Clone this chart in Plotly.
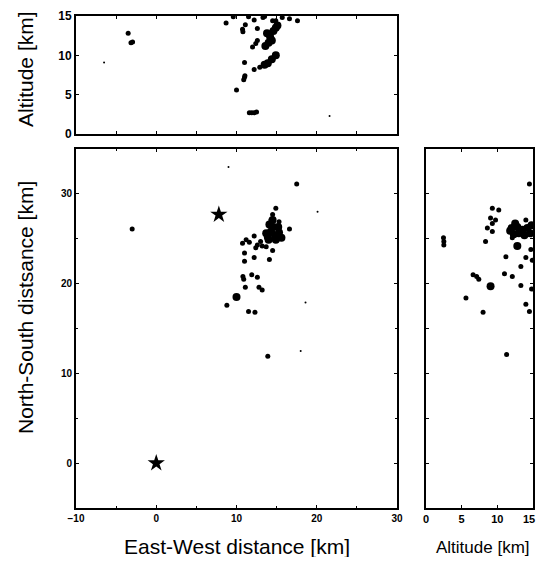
import plotly.graph_objects as go

# ---------------- data (km) ----------------
# Plan view: East-West vs North-South
plan_ew = [17.5, 14.9, 14.5, 14.3, 15.3, 16.6, 10.75, 11.2, 11.6, 12.2, 12.6, 13.0, 13.2,
           11.0, 11.0, 12.2, 14.1, 14.5, 13.7, 10.8, 10.9, 11.9, 12.6, 11.1, 12.8, 13.2,
           8.8, 11.5, 12.3, -3.0, 13.9, 12.4]
plan_ns = [31.1, 28.4, 27.7, 27.1, 26.9, 26.1, 24.5, 24.9, 24.6, 25.3, 24.3, 24.7, 24.2,
           23.4, 22.5, 22.9, 22.7, 23.7, 24.1, 20.8, 20.5, 21.0, 20.7, 19.6, 19.6, 19.3,
           17.6, 16.9, 16.8, 26.1, 11.9, 24.0]
plan_big_ew = [13.9, 14.3, 14.8, 15.3, 14.6, 14.1, 15.2, 14.9, 15.6, 14.0, 14.5, 13.7, 10.0]
plan_big_ns = [25.2, 25.8, 25.4, 25.7, 26.3, 26.6, 26.3, 24.9, 25.1, 24.9, 27.1, 25.6, 18.5]
plan_tiny_ew = [9.0, 20.1, 18.6, 18.0]
plan_tiny_ns = [33.0, 28.0, 17.9, 12.5]
star_ew = [7.8, 0.0]
star_ns = [27.7, 0.0]

# Vertical view: East-West vs Altitude
vert_ew = [-3.5, -3.15, -2.95, 8.7, 10.0, 10.9, 11.0, 11.05, 11.0, 12.2, 12.9, 12.0, 12.4,
           12.6, 12.6, 10.75, 10.8, 11.1, 12.2, 13.3, 14.5, 15.7, 16.6, 17.6, 14.9,
           11.6, 11.9, 12.2, 12.5, 11.5, 13.5, 9.6]
vert_alt = [12.8, 11.6, 11.7, 14.1, 5.6, 6.9, 7.2, 7.4, 9.1, 8.2, 8.5, 11.05, 11.5,
            11.9, 13.4, 13.3, 13.0, 13.9, 14.5, 14.8, 14.4, 14.8, 14.65, 14.4, 14.4,
            2.7, 2.7, 2.7, 2.8, 14.9, 14.95, 14.9]
vert_big_ew = [13.8, 14.2, 14.0, 14.6, 14.9, 13.6, 14.4, 15.1, 13.9, 14.4, 14.9, 13.5]
vert_big_alt = [12.8, 12.3, 11.6, 13.1, 13.5, 11.2, 11.9, 13.8, 9.0, 9.5, 10.0, 8.8]
vert_tiny_ew = [-6.5, 21.6]
vert_tiny_alt = [9.1, 2.3]

# Side view: Altitude vs North-South
side_alt = [14.5, 9.3, 10.2, 9.05, 9.75, 9.3, 8.6, 9.3, 8.35, 2.45, 2.5, 2.5, 14.0, 14.7,
            11.2, 14.0, 13.3, 6.6, 7.1, 7.4, 11.0, 12.1, 13.3, 14.8, 5.6, 14.0, 14.5,
            8.0, 11.3, 12.1, 14.9]
side_ns = [31.1, 28.4, 28.2, 27.3, 27.1, 26.7, 26.2, 25.8, 24.7, 25.1, 24.7, 24.3, 27.1, 23.8,
           23.0, 22.9, 21.9, 21.0, 20.8, 20.5, 21.1, 20.8, 19.8, 19.4, 18.4, 17.7, 16.9,
           16.8, 12.1, 25.1, 22.6]
side_big_alt = [12.0, 12.8, 13.5, 14.2, 12.3, 13.0, 13.8, 14.6, 11.8, 12.8, 14.8, 12.5, 9.05]
side_big_ns = [26.2, 26.3, 26.0, 26.2, 25.5, 25.6, 25.4, 25.6, 25.9, 24.2, 26.5, 26.7, 19.7]

plan_x_ticks = [-10, 0, 10, 20, 30]
plan_y_ticks = [0, 10, 20, 30]
alt_ticks = [0, 5, 10, 15]

# ---------------- figure ----------------
# the page body has an 8px default margin, so the figure is placed at (8, 8)
OFF = 8
W, H = 545 - 2 * OFF, 565 - 2 * OFF

def px_x(a, b):
    return [(a - OFF) / W, (b - OFF) / W]

def px_y(top, bottom):
    return [1 - (bottom - OFF) / H, 1 - (top - OFF) / H]

fig = go.Figure()

def dots(x, y, xa, ya, size, symbol="circle"):
    fig.add_trace(go.Scatter(x=x, y=y, xaxis=xa, yaxis=ya, mode="markers",
                             marker=dict(color="black", size=size, symbol=symbol,
                                         line=dict(width=0)),
                             showlegend=False, hoverinfo="skip", cliponaxis=True))

# main plan view (x, y)
dots(plan_ew, plan_ns, "x", "y", 5)
dots(plan_big_ew, plan_big_ns, "x", "y", 8)
dots(plan_tiny_ew, plan_tiny_ns, "x", "y", 2)
dots(star_ew, star_ns, "x", "y", 13, "star")
# vertical (x2, y2)
dots(vert_ew, vert_alt, "x2", "y2", 5)
dots(vert_big_ew, vert_big_alt, "x2", "y2", 8)
dots(vert_tiny_ew, vert_tiny_alt, "x2", "y2", 2)
# side (x3, y3)
dots(side_alt, side_ns, "x3", "y3", 5)
dots(side_big_alt, side_big_ns, "x3", "y3", 8)

tickfont_main = dict(family="Liberation Sans", size=10, color="black", weight="bold")
tickfont_alt = dict(family="Liberation Sans", size=12, color="black", weight="bold")
tickfont_side = dict(family="Liberation Sans", size=11, color="black", weight="bold")

common = dict(showline=True, linewidth=2, linecolor="black", mirror="ticks",
              ticks="inside", ticklen=3, tickwidth=1, tickcolor="black",
              showgrid=False, zeroline=False, fixedrange=True, automargin=False,
              ticklabeloverflow="allow")

main_x = px_x(76, 397)
right_x = px_x(426, 533)
main_y = px_y(149, 508)
top_y = px_y(16, 134)

# last tick label of the side panel is drawn right-aligned so it stays inside the page
side_ticktext = [str(v) for v in alt_ticks[:-1]] + [""]

fig.update_layout(
    width=W, height=H, margin=dict(l=0, r=0, t=0, b=0, autoexpand=False),
    paper_bgcolor="white", plot_bgcolor="white",
    xaxis=dict(domain=main_x, range=[-10, 30], tickvals=plan_x_ticks,
               tickfont=tickfont_main, anchor="y",
               minor=dict(dtick=5, tick0=0, ticks="inside", ticklen=2, tickcolor="black"), **common),
    yaxis=dict(domain=main_y, range=[-5, 35], tickvals=plan_y_ticks,
               tickfont=tickfont_main, anchor="x",
               minor=dict(dtick=5, tick0=0, ticks="inside", ticklen=2, tickcolor="black"), **common),
    xaxis2=dict(domain=main_x, range=[-10, 30], dtick=5, tick0=0, showticklabels=False,
                anchor="y2", **common),
    yaxis2=dict(domain=top_y, range=[0, 15], tickvals=alt_ticks, tickfont=tickfont_alt,
                anchor="x2", **common),
    xaxis3=dict(domain=right_x, range=[0, 15], tickvals=alt_ticks, ticktext=side_ticktext,
                tickfont=tickfont_side, anchor="y3", **common),
    yaxis3=dict(domain=main_y, range=[-5, 35], dtick=5, tick0=0, showticklabels=False,
                anchor="x3", **common),
)

fig.add_annotation(text=str(alt_ticks[-1]), x=1.0, y=1 - (519 - OFF) / H,
                   xref="paper", yref="paper", showarrow=False,
                   xanchor="right", yanchor="middle", font=tickfont_side)

def label(text, x, y, angle=0, size=21):
    fig.add_annotation(text=text, x=(x - OFF) / W, y=1 - (y - OFF) / H,
                       xref="paper", yref="paper",
                       showarrow=False, textangle=angle, xanchor="center", yanchor="middle",
                       font=dict(family="Liberation Sans", size=size, color="black"))

label("East-West distance [km]", 237, 546)
label("Altitude [km]", 483, 547, size=17)
label("North-South distsance [km]", 25, 308, angle=-90)
label("Altitude [km]", 25, 69, angle=-90)

fig.write_html("out.html")
